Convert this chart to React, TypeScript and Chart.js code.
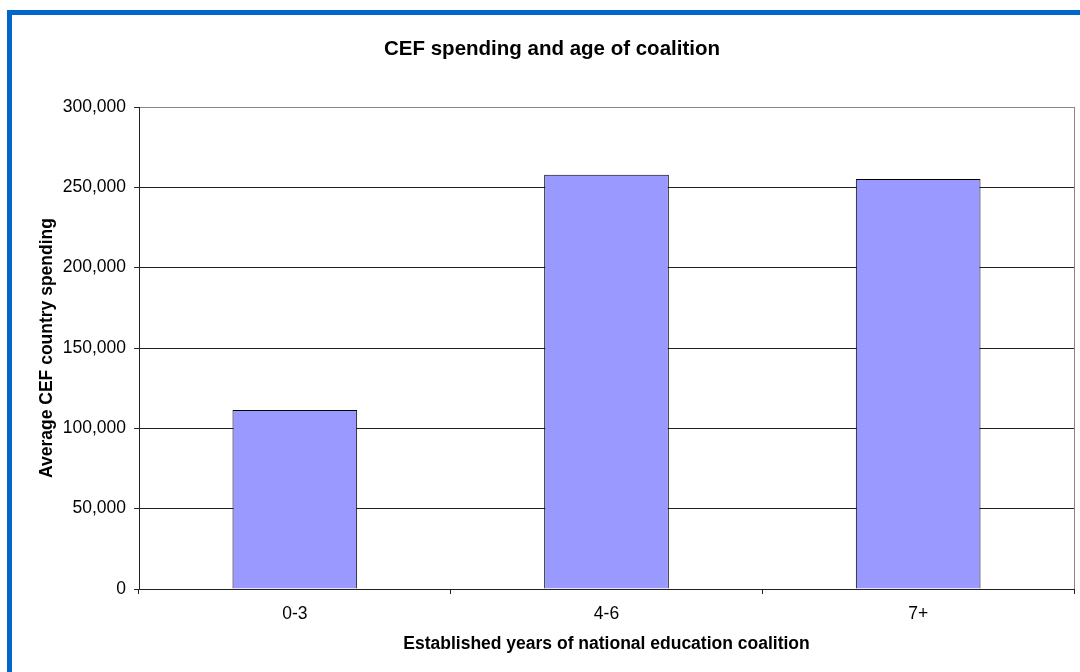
import React, { useEffect, useRef } from "react";
import { Chart, registerables } from "chart.js";

Chart.register(...registerables);

const categories = ["0-3", "4-6", "7+"];
const spending = [111400, 257800, 255200];
const yTicks = [0, 50000, 100000, 150000, 200000, 250000, 300000];
const chartTitle = "CEF spending and age of coalition";
const xTitle = "Established years of national education coalition";
const yTitle = "Average CEF country spending";

const FONT = "Arial, 'Liberation Sans', Helvetica, sans-serif";

const plotBorder = {
  id: "plotBorder",
  beforeDatasetsDraw(chart: any) {
    const { ctx, chartArea } = chart;
    ctx.save();
    ctx.strokeStyle = "#888888";
    ctx.lineWidth = 1;
    ctx.beginPath();
    const x = Math.round(chartArea.right) + 0.5;
    ctx.moveTo(x, chartArea.top);
    ctx.lineTo(x, chartArea.bottom);
    ctx.stroke();
    ctx.restore();
  },
};

export default function App() {
  const ref = useRef<HTMLCanvasElement | null>(null);

  useEffect(() => {
    if (!ref.current) return;
    const chart = new Chart(ref.current, {
      type: "bar",
      data: {
        labels: categories,
        datasets: [
          {
            data: spending,
            backgroundColor: "#9999FF",
            borderColor: "#000000",
            borderWidth: 1,
            barPercentage: 0.4,
            categoryPercentage: 1,
          },
        ],
      },
      plugins: [plotBorder],
      options: {
        animation: false,
        responsive: false,
        maintainAspectRatio: false,
        layout: { padding: { left: 30, right: 6, top: 0, bottom: 0 } },
        plugins: {
          legend: { display: false },
          tooltip: { enabled: false },
          title: {
            display: true,
            text: chartTitle,
            color: "#000",
            font: { family: FONT, size: 20.5, weight: "bold", lineHeight: 1.2 },
            padding: { top: 37, bottom: 45.4 },
          },
        },
        scales: {
          x: {
            offset: true,
            grid: {
              offset: true,
              drawOnChartArea: false,
              drawTicks: true,
              tickLength: 5,
              color: "#222",
            },
            border: { color: "#222", width: 1 },
            ticks: {
              color: "#000",
              padding: 10,
              font: { family: FONT, size: 17.5, lineHeight: 1.2 },
            },
            title: {
              display: true,
              text: xTitle,
              color: "#000",
              font: { family: FONT, size: 17.5, weight: "bold", lineHeight: 1.2 },
              padding: { top: 0, bottom: 17.5 },
            },
            afterFit(scale: any) {
              scale.height = 83;
            },
          },
          y: {
            min: 0,
            max: 300000,
            afterBuildTicks(scale: any) {
              scale.ticks = yTicks.map((v) => ({ value: v }));
            },
            grid: {
              color: (ctx: any) =>
                ctx.tick && ctx.tick.value === 300000 ? "#888888" : "#222222",
              tickColor: "#222",
              drawTicks: true,
              tickLength: 5,
            },
            border: { color: "#222", width: 1 },
            ticks: {
              color: "#000",
              padding: 8,
              font: { family: FONT, size: 17.5, lineHeight: 1.2 },
              callback: (v: any) => Number(v).toLocaleString("en-US"),
            },
            title: {
              display: true,
              text: yTitle,
              color: "#000",
              font: { family: FONT, size: 17.5, weight: "bold", lineHeight: 1.2 },
              padding: { top: 6.5, bottom: 0 },
            },
            afterFit(scale: any) {
              scale.width = 109;
            },
          },
        },
      },
    });
    return () => chart.destroy();
  }, []);

  return (
    <div
      style={{
        position: "absolute",
        left: 0,
        top: 0,
        width: 1080,
        height: 672,
        background: "#fff",
        overflow: "hidden",
      }}
    >
      <canvas
        ref={ref}
        width={1080}
        height={672}
        style={{ position: "absolute", left: 0, top: 0, width: 1080, height: 672 }}
      />
      <div
        style={{
          position: "absolute",
          left: 7,
          top: 10,
          width: 1073,
          height: 5,
          background: "#0066CC",
        }}
      />
      <div
        style={{
          position: "absolute",
          left: 7,
          top: 10,
          width: 5,
          height: 662,
          background: "#0066CC",
        }}
      />
    </div>
  );
}
